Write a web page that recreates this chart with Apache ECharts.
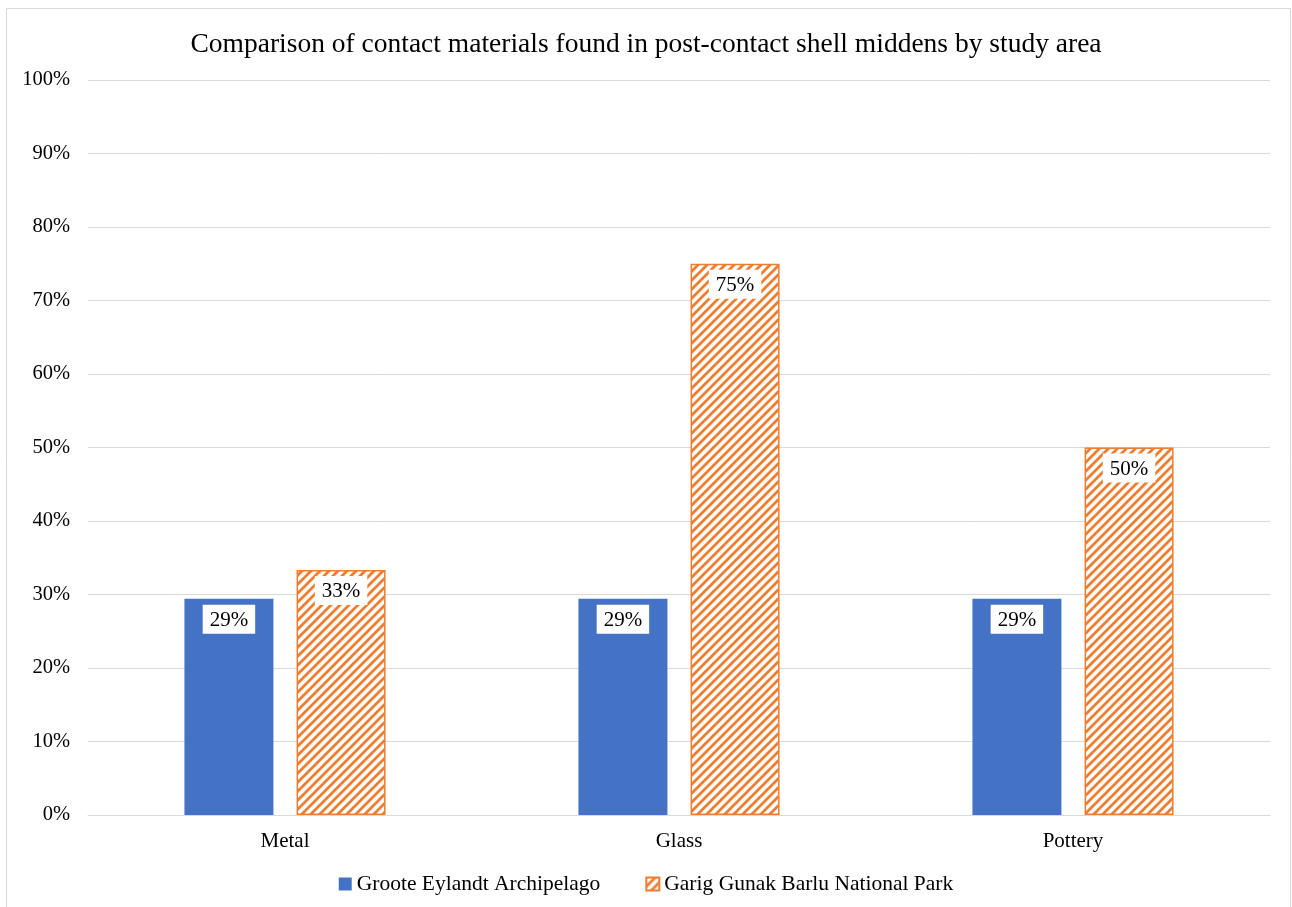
<!DOCTYPE html>
<html><head><meta charset="utf-8">
<script src="https://cdn.jsdelivr.net/npm/echarts@6/dist/echarts.min.js"></script>
<style>html,body{margin:0;padding:0;background:#fff}#c{width:1292px;height:907px}</style>
</head><body><div id="c"></div>
<script>
const categories = ['Metal', 'Glass', 'Pottery'];
const grooteValues = [29.41, 29.41, 29.41];
const garigValues = [33.33, 75, 50];
const seriesNames = ['Groote Eylandt Archipelago', 'Garig Gunak Barlu National Park'];

function makeHatch() {
  const s = 9;
  const cv = document.createElement('canvas');
  cv.width = s; cv.height = s;
  const ctx = cv.getContext('2d');
  ctx.fillStyle = '#fff';
  ctx.fillRect(0, 0, s, s);
  ctx.strokeStyle = '#ED7D31';
  ctx.lineWidth = 2.8;
  ctx.beginPath();
  ctx.moveTo(-1, s + 1); ctx.lineTo(s + 1, -1);
  ctx.moveTo(-1, 1); ctx.lineTo(1, -1);
  ctx.moveTo(s - 1, s + 1); ctx.lineTo(s + 1, s - 1);
  ctx.stroke();
  return cv;
}

const chart = echarts.init(document.getElementById('c'), null, {renderer: 'canvas'});
const font = '"Liberation Serif", "Times New Roman", serif';
const labelCfg = {
  show: true, position: 'insideTop', distance: 6,
  formatter: p => Math.round(p.value) + '%',
  backgroundColor: '#fff', padding: [5, 7, 3, 7],
  color: '#000', fontSize: 21, fontFamily: font
};
chart.setOption({
  animation: false,
  textStyle: {fontFamily: font},
  graphic: [{type: 'rect', shape: {x: 6.5, y: 8.5, width: 1284, height: 910},
    style: {fill: 'none', stroke: '#d9d9d9', lineWidth: 1}, silent: true}],
  title: {text: 'Comparison of contact materials found in post-contact shell middens by study area',
    left: 'center', top: 26,
    textStyle: {fontFamily: font, fontSize: 27.5, fontWeight: 'normal', color: '#000'}},
  legend: {top: 868, left: 'center', itemWidth: 13, itemHeight: 13, itemGap: 45, icon: 'rect',
    textStyle: {fontFamily: font, fontSize: 21.5, color: '#000'},
    data: seriesNames},
  grid: {left: 88, right: 22, top: 80, bottom: 92, containLabel: false},
  xAxis: {type: 'category', data: categories,
    axisLine: {lineStyle: {color: '#d9d9d9'}}, axisTick: {show: false},
    axisLabel: {fontFamily: font, fontSize: 21, color: '#000', margin: 16}},
  yAxis: {type: 'value', min: 0, max: 100, interval: 10,
    axisLabel: {formatter: '{value}%', fontFamily: font, fontSize: 20.5, color: '#000', margin: 18},
    splitLine: {lineStyle: {color: '#d9d9d9'}}, axisLine: {show: false}, axisTick: {show: false}},
  series: [
    {name: seriesNames[0], type: 'bar', data: grooteValues, barWidth: 89, barGap: '26%',
      itemStyle: {color: '#4472C4'}, label: labelCfg},
    {name: seriesNames[1], type: 'bar', data: garigValues, barWidth: 89,
      itemStyle: {color: {image: makeHatch(), repeat: 'repeat'}, borderColor: '#ED7D31', borderWidth: 1.5},
      label: labelCfg}
  ]
});
</script></body></html>
